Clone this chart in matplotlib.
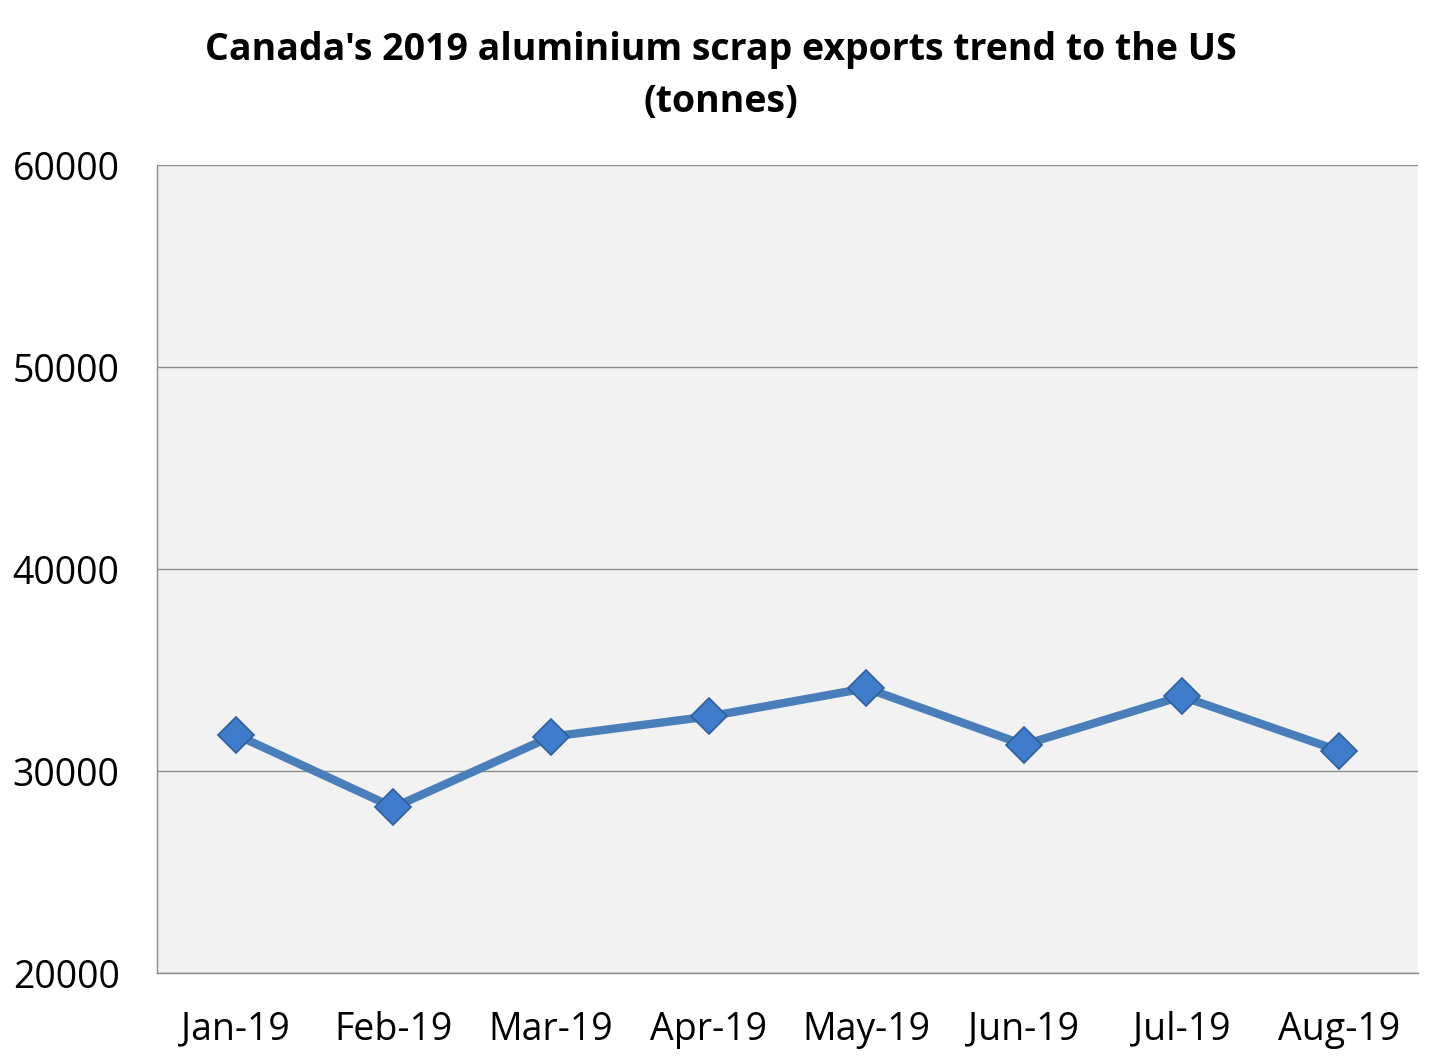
import matplotlib
matplotlib.use('Agg')
import matplotlib.pyplot as plt

months = ['Jan-19', 'Feb-19', 'Mar-19', 'Apr-19', 'May-19', 'Jun-19', 'Jul-19', 'Aug-19']
exports = [31800, 28200, 31700, 32700, 34100, 31300, 33700, 31000]
yticks = [20000, 30000, 40000, 50000, 60000]

plt.rcParams['font.family'] = ['Open Sans', 'DejaVu Sans']

fig = plt.figure(figsize=(14.42, 10.64), dpi=100)
ax = fig.add_axes([0.1089, 0.0855, 0.8745, 0.7594])
ax.set_facecolor('#f2f2f2')

x = range(len(months))
ax.plot(x, exports, color='#4a7ebb', linewidth=6, marker='D', markersize=18,
        markerfacecolor='#3f7ccc', markeredgecolor='#2e5f99', markeredgewidth=1.2,
        zorder=3)

ax.set_xlim(-0.5, len(months) - 0.5)
ax.set_ylim(20000, 60000)
ax.set_yticks(yticks)
ax.set_yticklabels([str(v) for v in yticks])
ax.set_xticks(list(x))
ax.set_xticklabels(months)
ax.yaxis.grid(True, color='#8c8c8c', linewidth=1)
ax.set_axisbelow(True)
ax.tick_params(axis='both', length=0, labelsize=27)
ax.tick_params(axis='x', pad=27)
ax.tick_params(axis='y', pad=27)

for side in ['top', 'right']:
    ax.spines[side].set_visible(False)
for side in ['left', 'bottom']:
    ax.spines[side].set_color('#8c8c8c')
    ax.spines[side].set_linewidth(1)

fig.suptitle("Canada's 2019 aluminium scrap exports trend to the US\n(tonnes)",
             x=0.5, y=0.971, fontsize=27, fontweight='bold', linespacing=1.5)

fig.savefig('out.png', dpi=100)
